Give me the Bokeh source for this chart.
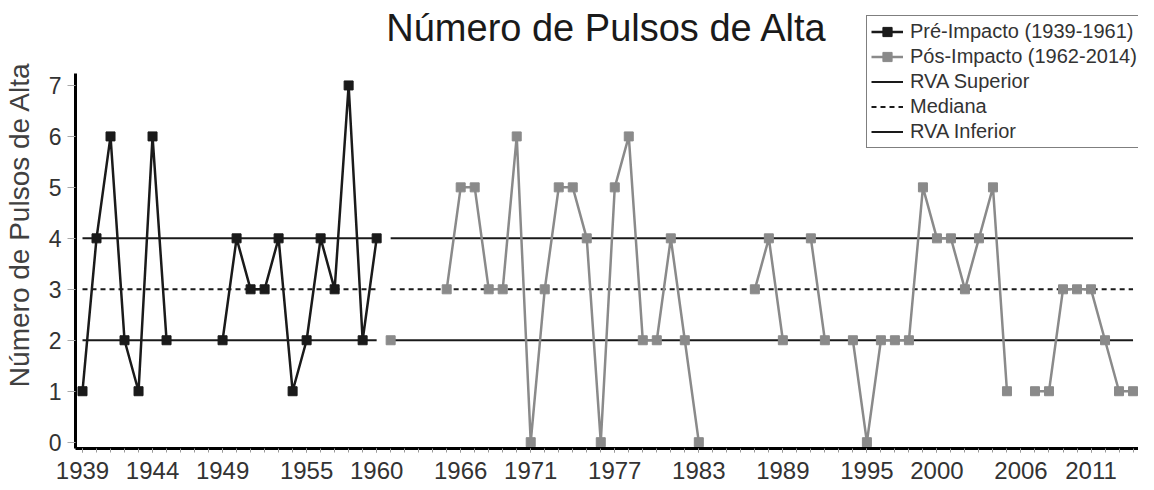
from bokeh.plotting import figure
from bokeh.models import Range1d, FixedTicker, Legend, LegendItem, Label
from bokeh.embed import file_html
from bokeh.resources import INLINE

nan = float("nan")

title_text = "Número de Pulsos de Alta"
y_label = "Número de Pulsos de Alta"

pre_years = list(range(1939, 1961))
pre_values = [1, 4, 6, 2, 1, 6, 2, nan, nan, nan, 2, 4, 3, 3, 4, 1, 2, 4, 3, 7, 2, 4]

post_years = list(range(1961, 2015))
post_values = [2, nan, nan, nan, 3, 5, 5, 3, 3, 6,
               0, 3, 5, 5, 4, 0, 5, 6, 2, 2,
               4, 2, 0, nan, nan, nan, 3, 4, 2, nan,
               4, 2, nan, 2, 0, 2, 2, 2, 5, 4,
               4, 3, 4, 5, 1, nan, 1, 1, 3, 3,
               3, 2, 1, 1]

period_start = [1939, 1961]
period_end = [1960, 2014]
rva_superior = 4
mediana = 3
rva_inferior = 2

x_tick_labels = [1939, 1944, 1949, 1955, 1960, 1966, 1971, 1977, 1983,
                 1989, 1995, 2000, 2006, 2011]
y_ticks = [0, 1, 2, 3, 4, 5, 6, 7]

legend_labels = ["Pré-Impacto (1939-1961)", "Pós-Impacto (1962-2014)",
                 "RVA Superior", "Mediana", "RVA Inferior"]

PRE_COLOR = "#1a1a1a"
POST_COLOR = "#8a8a8a"
REF_COLOR = "#1a1a1a"

Y_MIN, Y_AXIS_TOP = -0.124, 7.235

p = figure(width=1138, height=490,
           x_range=Range1d(1938.5, 2014.39),
           y_range=Range1d(Y_MIN, 8.667),
           output_backend="svg", toolbar_location=None,
           min_border_left=68, min_border_right=0,
           min_border_top=0, min_border_bottom=42)

p.outline_line_color = None
p.xgrid.visible = False
p.ygrid.visible = False
p.background_fill_color = "white"
p.border_fill_color = "white"

# reference lines
r_sup = p.segment(x0=period_start, x1=period_end,
                  y0=[rva_superior] * 2, y1=[rva_superior] * 2,
                  line_color=REF_COLOR, line_width=2)
r_med = p.segment(x0=period_start, x1=period_end,
                  y0=[mediana] * 2, y1=[mediana] * 2,
                  line_color=REF_COLOR, line_width=2, line_dash="5 4")
r_inf = p.segment(x0=period_start, x1=period_end,
                  y0=[rva_inferior] * 2, y1=[rva_inferior] * 2,
                  line_color=REF_COLOR, line_width=2)

# series
l_pre = p.line(pre_years, pre_values, line_color=PRE_COLOR, line_width=2.5)
m_pre = p.scatter(pre_years, pre_values, marker="square", size=9,
                  fill_color=PRE_COLOR, line_color=PRE_COLOR)
l_post = p.line(post_years, post_values, line_color=POST_COLOR, line_width=2.5)
m_post = p.scatter(post_years, post_values, marker="square", size=9,
                   fill_color=POST_COLOR, line_color=POST_COLOR)

# axes
xa = p.xaxis[0]
xa.ticker = FixedTicker(ticks=x_tick_labels,
                        minor_ticks=list(range(1938, 2015)))
xa.axis_line_width = 3
xa.axis_line_color = "black"
xa.major_tick_in = 0
xa.major_tick_out = 4
xa.minor_tick_in = 0
xa.minor_tick_out = 4
xa.major_tick_line_color = "#999999"
xa.minor_tick_line_color = "#999999"
xa.major_label_text_font = "Liberation Sans"
xa.major_label_text_font_size = "24px"
xa.major_label_text_color = "#333333"
xa.major_label_standoff = 9

ya = p.yaxis[0]
ya.bounds = (Y_MIN, Y_AXIS_TOP)
ya.ticker = FixedTicker(ticks=y_ticks)
ya.axis_line_width = 3
ya.axis_line_color = "black"
ya.major_tick_in = 0
ya.major_tick_out = 8
ya.minor_tick_line_color = None
ya.major_tick_line_color = "#aaaaaa"
ya.major_label_text_font = "Liberation Sans"
ya.major_label_text_font_size = "23px"
ya.major_label_text_color = "#333333"
ya.major_label_standoff = 6
ya.axis_label = y_label
ya.axis_label_text_font = "Liberation Sans"
ya.axis_label_text_font_size = "28px"
ya.axis_label_text_font_style = "normal"
ya.axis_label_text_color = "#404040"
ya.axis_label_standoff = 11

# title placed above the plotted data area
title = Label(x=531.5, y=420.5, x_units="screen", y_units="screen",
              text=title_text, text_align="center", text_baseline="middle",
              text_font="Liberation Sans", text_font_size="38px",
              text_color="#1a1a1a")
p.add_layout(title)

legend = Legend(items=[
    LegendItem(label=legend_labels[0], renderers=[l_pre, m_pre]),
    LegendItem(label=legend_labels[1], renderers=[l_post, m_post]),
    LegendItem(label=legend_labels[2], renderers=[r_sup]),
    LegendItem(label=legend_labels[3], renderers=[r_med]),
    LegendItem(label=legend_labels[4], renderers=[r_inf]),
], location=(791, 300))
legend.border_line_color = "black"
legend.border_line_width = 1
legend.background_fill_color = "white"
legend.background_fill_alpha = 1
legend.padding = 4
legend.spacing = 2
legend.margin = 0
legend.label_text_font = "Liberation Sans"
legend.label_text_font_size = "20px"
legend.label_text_color = "#333333"
legend.label_height = 23
legend.glyph_height = 23
legend.glyph_width = 32
legend.label_standoff = 7
p.add_layout(legend)

open("out.html", "w").write(file_html(p, INLINE))
